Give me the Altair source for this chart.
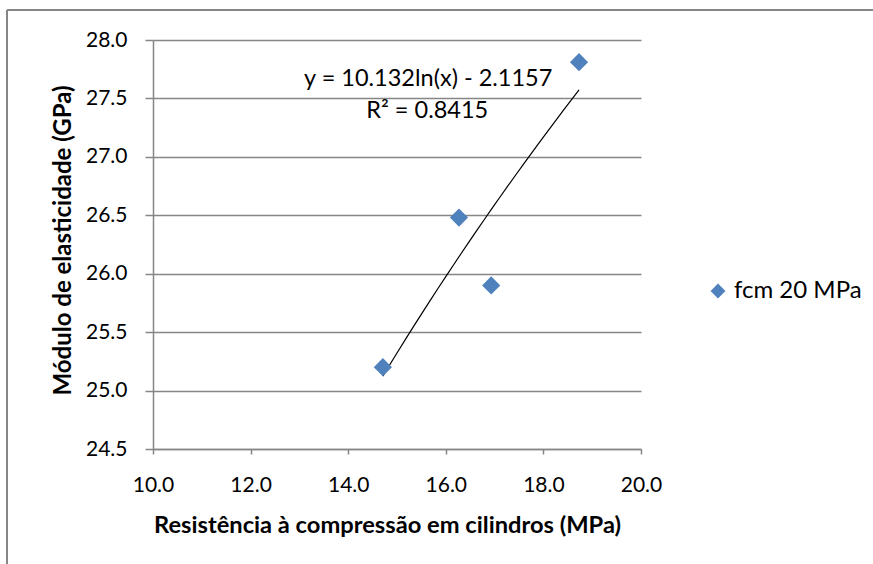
import altair as alt
import pandas as pd

# Data
resistencia = [14.71, 16.27, 16.93, 18.73]
modulo = [25.20, 26.48, 25.90, 27.81]
serie = ["fcm 20 MPa"] * 4
equacao = "y = 10.132ln(x) - 2.1157"
r2 = "R² = 0.8415"

df = pd.DataFrame({"x": resistencia, "y": modulo, "serie": serie})

FONT = "Lato"
GRAY = "#868686"
BLUE = "#4F81BD"

xscale = alt.Scale(domain=[10, 20], nice=False, zero=False)
yscale = alt.Scale(domain=[24.5, 28.0], nice=False, zero=False)

base = alt.Chart(df)

points = base.mark_point(shape="diamond", filled=True, size=330, opacity=1).encode(
    x=alt.X("x:Q", scale=xscale,
            axis=alt.Axis(title="Resistência à compressão em cilindros (MPa)",
                          values=[10, 12, 14, 16, 18, 20], format=".1f",
                          grid=False, tickSize=5, labelPadding=20,
                          labelFlush=False, titlePadding=18,
                          titleFontSize=23.7, titleX=234, titleAlign="center")),
    y=alt.Y("y:Q", scale=yscale,
            axis=alt.Axis(title="Módulo de elasticidade (GPa)",
                          values=[24.5, 25, 25.5, 26, 26.5, 27, 27.5, 28],
                          format=".1f", grid=True, tickSize=8, labelPadding=18,
                          labelFlush=False, titlePadding=10,
                          titleFontSize=24, titleY=200, titleAlign="center")),
    color=alt.Color("serie:N",
                    scale=alt.Scale(domain=["fcm 20 MPa"], range=[BLUE]),
                    legend=alt.Legend(title=None, orient="none", legendX=553,
                                      legendY=239, symbolSize=220,
                                      symbolType="diamond", labelFontSize=24,
                                      labelFont=FONT, labelColor="#000000",
                                      padding=0, labelOffset=4)),
)

trend = base.transform_regression("x", "y", method="log").mark_line(
    color="#000000", strokeWidth=1.2
).encode(x=alt.X("x:Q", scale=xscale), y=alt.Y("y:Q", scale=yscale))

ann1 = alt.Chart().mark_text(font=FONT, fontSize=23.5, color="#000000").encode(
    x=alt.datum(15.64), y=alt.datum(27.67), text=alt.value(equacao))
ann2 = alt.Chart().mark_text(font=FONT, fontSize=23.5, color="#000000").encode(
    x=alt.datum(15.62), y=alt.datum(27.39), text=alt.value(r2))

border_left = alt.Chart().mark_rule(color=GRAY, strokeWidth=2).encode(
    x=alt.value(-146), y=alt.value(-30), y2=alt.value(530))
border_top = alt.Chart().mark_rule(color=GRAY, strokeWidth=2).encode(
    x=alt.value(-146), x2=alt.value(725), y=alt.value(-30))

chart = alt.layer(trend, points, ann1, ann2, border_left, border_top).properties(
    width=488, height=409,
    background="white",
    autosize=alt.AutoSizeParams(type="none"),
    padding={"left": 153, "top": 40, "right": 232, "bottom": 115},
).configure_view(stroke=None).configure_axis(
    domainColor=GRAY, tickColor=GRAY, gridColor=GRAY, gridWidth=1.5,
    gridOpacity=1, domainWidth=1.5, tickWidth=1.5,
    labelFont=FONT, labelFontSize=21, labelColor="#000000",
    titleFont=FONT, titleFontWeight="bold", titleColor="#000000",
)

chart.save("out.html", embed_options={"renderer": "svg", "actions": False})
